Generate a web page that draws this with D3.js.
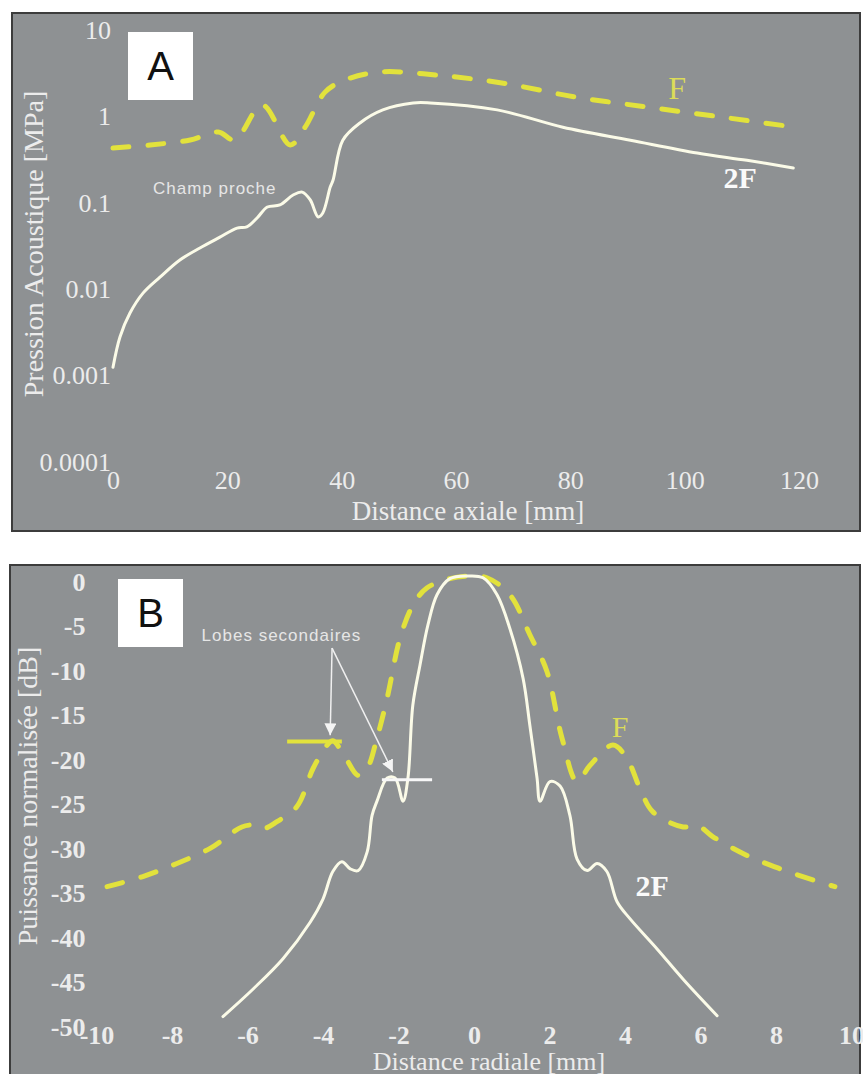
<!DOCTYPE html>
<html>
<head>
<meta charset="utf-8">
<script src="https://cdn.jsdelivr.net/npm/d3@7/dist/d3.min.js"></script>
<style>
    body { margin: 0; background: #ffffff; }
</style>
</head>
<body>
<div id="plot"></div>
<script>
// Panel A: acoustic pressure along the axis (log scale)
var axialTicks = [0, 20, 40, 60, 80, 100, 120];
var pressureTicks = [0.0001, 0.001, 0.01, 0.1, 1, 10];
var pressureTickLabels = ["0.0001", "0.001", "0.01", "0.1", "1", "10"];

var axialF = [0, 6.5, 13.5, 18.4, 21.3, 26.1, 31, 33.6, 37.1, 40.6, 46.7, 56.7, 68, 80.8, 93.6, 106.6, 119.3];
var pressureF = [0.43, 0.467, 0.533, 0.66, 0.533, 1.36, 0.467, 0.75, 1.91, 2.64, 3.27, 3.0, 2.44, 1.68, 1.28, 0.98, 0.75];

var axial2F = [0, 1.22, 2.97, 5.25, 8.22, 11.7, 15.2, 18.7, 21.7, 23.4, 25.2, 27, 29.2, 31.5, 33.1, 34.5, 35.9, 36.7,
    38, 38.5, 40.2, 43.2, 47.2, 52.5, 55.5, 67.2, 78.7, 90.5, 102.2, 110.9, 119];
var pressure2F = [0.00125, 0.0028, 0.0053, 0.009, 0.0138, 0.0218, 0.03, 0.04, 0.051, 0.0525, 0.0667, 0.0894, 0.0944,
    0.123, 0.133, 0.108, 0.0686, 0.0762, 0.152, 0.184, 0.53, 0.84, 1.19, 1.43, 1.43, 1.19, 0.75, 0.53, 0.377, 0.31, 0.253];

// Panel B: normalised power across the beam
var radialTicks = [-10, -8, -6, -4, -2, 0, 2, 4, 6, 8, 10];
var powerTicks = [0, -5, -10, -15, -20, -25, -30, -35, -40, -45, -50];

var radialF = [-9.72, -8.79, -7.87, -6.99, -6.15, -5.8, -5.59, -5.22, -4.69, -4.26, -3.89, -3.74, -3.42, -3.07, -2.83,
    -2.57, -2.3, -1.96, -1.62, -1.25, -0.64, -0.15, 0.34, 0.95, 1.48, 1.93, 2.33, 2.73, 3.07, 3.68, 4.05, 4.4, 4.74,
    5.54, 5.91, 6.33, 7.23, 8.11, 9.09, 9.56];
var powerF = [-34.9, -33.8, -32.3, -30.6, -28.2, -28.0, -28.4, -27.6, -25.9, -21.6, -19.0, -18.5, -20.3, -22.4, -21.6,
    -18.2, -13.7, -7.0, -3.3, -1.35, -0.3, 0, -0.2, -2.1, -6.6, -10.7, -18.2, -23.1, -21.3, -19.0, -20.5, -23.9, -26.5,
    -28.2, -28.0, -29.3, -31.4, -32.9, -34.3, -34.9];

var radial2F = [-6.65, -5.85, -5.06, -4.34, -4.0, -3.74, -3.5, -3.28, -3.07, -2.83, -2.7, -2.57, -2.3, -2.09, -1.88,
    -1.75, -1.62, -1.43, -1.22, -0.98, -0.64, -0.16, 0.24, 0.61, 0.95, 1.3, 1.48, 1.67, 1.75, 2.01, 2.28, 2.54, 2.73,
    3.0, 3.26, 3.52, 3.79, 4.13, 4.85, 5.54, 6.44];
var power2F = [-49.5, -46.4, -43.0, -38.9, -36.3, -33.2, -32.1, -32.9, -33.1, -31.0, -26.9, -25.3, -22.7, -22.7, -25.3,
    -22.7, -14.5, -10.0, -5.5, -2.1, -0.3, 0, -0.2, -2.1, -5.9, -11.5, -16.8, -22.7, -25.3, -23.1, -23.6, -26.9, -31.8,
    -33.1, -32.3, -33.2, -36.6, -38.5, -41.9, -45.3, -49.4];

// side-lobe markers: [x1, x2, level]
var lobeF = [-4.95, -3.5, -18.6];
var lobe2F = [-2.44, -1.11, -22.9];

var BG = "#8e9193",
    YELLOW = "#e2e23c",
    CREAM = "#fbfbe8",
    TEXT = "#ececec",
    SERIF = "'Liberation Serif', 'Times New Roman', serif",
    SANS = "'Liberation Sans', Arial, sans-serif";

var svg = d3.select("#plot")
    .append("svg")
    .attr("width", 863)
    .attr("height", 1074);

svg.append("defs")
    .append("marker")
    .attr("id", "arrow")
    .attr("viewBox", "0 0 10 10")
    .attr("refX", 10)
    .attr("refY", 5)
    .attr("markerWidth", 12)
    .attr("markerHeight", 12)
    .attr("markerUnits", "userSpaceOnUse")
    .attr("orient", "auto")
    .append("path")
    .attr("d", "M0,0 L10,5 L0,10 Z")
    .attr("fill", "#f4f4f4");

function zip(xs, ys) {
    return xs.map(function (x, i) { return [x, ys[i]]; });
}

// plain hyphen for negatives, as on the original figure
function plain(d) {
    return String(d);
}

function frame(x0, y0, x1, y1) {
    svg.append("rect")
        .attr("x", x0).attr("y", y0)
        .attr("width", x1 - x0).attr("height", y1 - y0)
        .attr("fill", BG)
        .attr("stroke", "#3c3c3c")
        .attr("stroke-width", 2);
}

function letterBox(x, y, letter) {
    svg.append("rect")
        .attr("x", x).attr("y", y)
        .attr("width", 65).attr("height", 68)
        .attr("fill", "#ffffff");
    svg.append("text")
        .attr("x", x + 32.5).attr("y", y + 48)
        .attr("text-anchor", "middle")
        .attr("font-family", SANS)
        .attr("font-size", 40)
        .attr("fill", "#111111")
        .text(letter);
}

function styleAxis(g, bold) {
    g.select(".domain").remove();
    g.selectAll("text")
        .attr("font-family", SERIF)
        .attr("font-size", 26)
        .attr("font-weight", bold ? "bold" : "normal")
        .attr("fill", TEXT);
}

function curve(data, x, y, dashed) {
    var line = d3.line()
        .x(function (d) { return x(d[0]); })
        .y(function (d) { return y(d[1]); })
        .curve(d3.curveCatmullRom.alpha(0.5));

    svg.append("path")
        .datum(data)
        .attr("d", line)
        .attr("fill", "none")
        .attr("stroke", dashed ? YELLOW : CREAM)
        .attr("stroke-width", dashed ? 5 : 3)
        .attr("stroke-linecap", "round")
        .attr("stroke-dasharray", dashed ? "16,19" : null);
}

function label(x, y, txt, opts) {
    svg.append("text")
        .attr("x", x).attr("y", y)
        .attr("text-anchor", opts.anchor || "middle")
        .attr("font-family", opts.family || SERIF)
        .attr("font-size", opts.size)
        .attr("font-weight", opts.bold ? "bold" : "normal")
        .attr("letter-spacing", opts.spacing || 0)
        .attr("fill", opts.color || TEXT)
        .text(txt);
}

// ---------------- Panel A ----------------
frame(12, 13, 860, 531);

var xA = d3.scaleLinear().domain([0, 120]).range([113, 799]);
var yA = d3.scaleLog().domain([0.0001, 10]).range([462, 30]);

svg.append("g")
    .attr("transform", "translate(0," + yA(0.0001) + ")")
    .call(d3.axisBottom(xA).tickValues(axialTicks).tickSize(0).tickPadding(9).tickFormat(plain))
    .call(styleAxis, false);

svg.append("g")
    .attr("transform", "translate(" + xA(0) + ",0)")
    .call(d3.axisLeft(yA).tickValues(pressureTicks).tickSize(0).tickPadding(2)
        .tickFormat(function (d, i) { return pressureTickLabels[i]; }))
    .call(styleAxis, false);

curve(zip(axialF, pressureF), xA, yA, true);
curve(zip(axial2F, pressure2F), xA, yA, false);

letterBox(128, 32, "A");

label(xA(98.7), yA(2.13) + 11, "F", {size: 32, color: "#dcdc58"});
label(xA(109.7), yA(0.194) + 10, "2F", {size: 30, bold: true, color: "#fafafa"});
label(xA(7), yA(0.148) + 6, "Champ proche", {size: 17, family: SANS, anchor: "start", spacing: 1, color: "#e6e6e6"});

label(468, 520, "Distance axiale [mm]", {size: 27});
svg.append("text")
    .attr("transform", "translate(43,244) rotate(-90)")
    .attr("text-anchor", "middle")
    .attr("font-family", SERIF)
    .attr("font-size", 28)
    .attr("fill", TEXT)
    .text("Pression Acoustique [MPa]");

// ---------------- Panel B ----------------
frame(10, 565, 860, 1090);

var xB = d3.scaleLinear().domain([-10, 10]).range([96.5, 851.5]);
var yB = d3.scaleLinear().domain([-50, 0]).range([1021, 576]);

svg.append("g")
    .attr("transform", "translate(0," + yB(-50) + ")")
    .call(d3.axisBottom(xB).tickValues(radialTicks).tickSize(0).tickPadding(5).tickFormat(plain))
    .call(styleAxis, true);

svg.append("g")
    .attr("transform", "translate(" + xB(-10) + ",0)")
    .call(d3.axisLeft(yB).tickValues(powerTicks).tickSize(0).tickPadding(11).tickFormat(plain))
    .call(styleAxis, true)
    .selectAll("text").attr("dy", "0.55em");

curve(zip(radialF, powerF), xB, yB, true);
curve(zip(radial2F, power2F), xB, yB, false);

// side lobe markers
svg.append("line")
    .attr("x1", xB(lobeF[0])).attr("x2", xB(lobeF[1]))
    .attr("y1", yB(lobeF[2])).attr("y2", yB(lobeF[2]))
    .attr("stroke", YELLOW).attr("stroke-width", 4);
svg.append("line")
    .attr("x1", xB(lobe2F[0])).attr("x2", xB(lobe2F[1]))
    .attr("y1", yB(lobe2F[2])).attr("y2", yB(lobe2F[2]))
    .attr("stroke", "#f8f8f8").attr("stroke-width", 3);

// arrows from the annotation to both lobes
[[-3.81, -17.9], [-2.15, -22.0]].forEach(function (p) {
    svg.append("line")
        .attr("x1", xB(-3.76)).attr("y1", yB(-8.1))
        .attr("x2", xB(p[0])).attr("y2", yB(p[1]))
        .attr("stroke", "#f0f0f0")
        .attr("stroke-width", 1.5)
        .attr("marker-end", "url(#arrow)");
});

letterBox(118, 579, "B");

label(xB(-5.1), yB(-6.6) + 6, "Lobes secondaires", {size: 17, family: SANS, spacing: 1, color: "#e6e6e6"});
label(xB(3.87), yB(-16.9) + 11, "F", {size: 30, color: "#dcdc58"});
label(xB(4.72), yB(-34.8) + 10, "2F", {size: 30, bold: true, color: "#fafafa"});

label(489, 1070, "Distance radiale [mm]", {size: 26});
svg.append("text")
    .attr("transform", "translate(37,796) rotate(-90)")
    .attr("text-anchor", "middle")
    .attr("font-family", SERIF)
    .attr("font-size", 28)
    .attr("fill", TEXT)
    .text("Puissance normalisée [dB]");
</script>
</body>
</html>
